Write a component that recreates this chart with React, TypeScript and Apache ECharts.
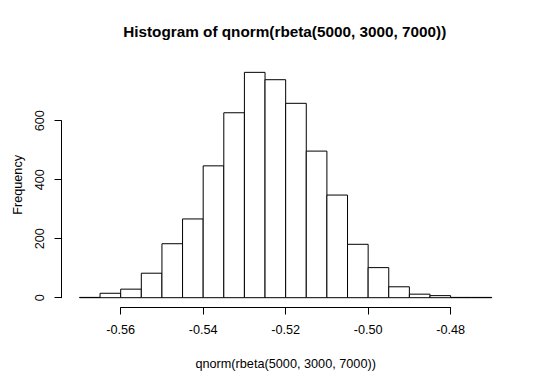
import React, { useEffect, useRef } from "react";
import * as echarts from "echarts";

// Histogram bin edges (breaks) and counts
const binEdges = [
  -0.57, -0.565, -0.56, -0.555, -0.55, -0.545, -0.54, -0.535, -0.53, -0.525,
  -0.52, -0.515, -0.51, -0.505, -0.5, -0.495, -0.49, -0.485, -0.48, -0.475, -0.47,
];
const counts = [1, 15, 29, 83, 183, 267, 447, 627, 764, 739, 659, 497, 348, 181, 102, 37, 12, 7, 1, 1];

const titleText = "Histogram of qnorm(rbeta(5000, 3000, 7000))";
const xLabel = "qnorm(rbeta(5000, 3000, 7000))";
const yLabel = "Frequency";

// axis tick ranges (R-style axes span first to last tick)
const xTickMin = -0.56;
const xTickMax = -0.48;
const xTickStep = 0.02;
const yTickMin = 0;
const yTickMax = 600;
const yTickStep = 200;

const FONT = '"Liberation Sans", Arial, Helvetica, sans-serif';

export default function App() {
  const ref = useRef<HTMLDivElement>(null);
  useEffect(() => {
    if (!ref.current) return;
    const chart = echarts.init(ref.current, undefined, { renderer: "svg" });
    const data = counts.map((c, i) => [binEdges[i], binEdges[i + 1], c]);
    chart.setOption({
      animation: false,
      backgroundColor: "#fff",
      textStyle: { fontFamily: FONT },
      graphic: [
        {
          type: "text",
          x: 284.7,
          y: 31.7,
          style: {
            text: titleText,
            fill: "#000",
            font: `bold 15.3px ${FONT}`,
            textAlign: "center",
            textVerticalAlign: "middle",
          },
        },
      ],
      grid: [
        { left: 62.96, width: 445.4, top: 63.2, height: 243.35 },
        { left: 120.7, width: 330, top: 306.5, height: 1 },
        { left: 61.5, width: 1, top: 120.7, height: 177 },
      ],
      xAxis: [
        {
          gridIndex: 0,
          type: "value",
          min: -0.574,
          max: -0.466,
          axisLine: { show: false },
          axisTick: { show: false },
          axisLabel: { show: false },
          splitLine: { show: false },
          name: xLabel,
          nameLocation: "middle",
          nameGap: 51,
          nameTextStyle: { fontSize: 12.7, color: "#000", fontFamily: FONT },
        },
        {
          gridIndex: 1,
          type: "value",
          min: xTickMin,
          max: xTickMax,
          interval: xTickStep,
          position: "bottom",
          axisLine: { show: true, lineStyle: { color: "#000", width: 1 } },
          axisTick: { show: true, length: 7, lineStyle: { color: "#000", width: 1 } },
          axisLabel: {
            show: true,
            fontSize: 12.7,
            color: "#000",
            fontFamily: FONT,
            margin: 16,
            formatter: (v: number) => v.toFixed(2),
          },
          splitLine: { show: false },
        },
        {
          gridIndex: 2,
          type: "value",
          show: false,
        },
      ],
      yAxis: [
        {
          gridIndex: 0,
          type: "value",
          min: -30,
          max: 795,
          axisLine: { show: false },
          axisTick: { show: false },
          axisLabel: { show: false },
          splitLine: { show: false },
          name: yLabel,
          nameLocation: "middle",
          nameRotate: 90,
          nameGap: 38,
          nameTextStyle: { fontSize: 12.7, color: "#000", fontFamily: FONT },
        },
        {
          gridIndex: 1,
          type: "value",
          show: false,
          min: 0,
          max: 1,
        },
        {
          gridIndex: 2,
          type: "value",
          min: yTickMin,
          max: yTickMax,
          interval: yTickStep,
          position: "left",
          axisLine: { show: true, lineStyle: { color: "#000", width: 1 } },
          axisTick: { show: true, length: 7, lineStyle: { color: "#000", width: 1 } },
          axisLabel: {
            show: true,
            rotate: 90,
            fontSize: 12.7,
            color: "#000",
            fontFamily: FONT,
            margin: 15,
          },
          splitLine: { show: false },
        },
      ],
      series: [
        {
          type: "custom",
          xAxisIndex: 0,
          yAxisIndex: 0,
          clip: false,
          data,
          encode: { x: [0, 1], y: 2 },
          renderItem: (params: any, api: any) => {
            const x0 = api.value(0);
            const x1 = api.value(1);
            const c = api.value(2);
            const p0 = api.coord([x0, 0]);
            const p1 = api.coord([x1, c]);
            return {
              type: "rect",
              shape: {
                x: p0[0],
                y: p1[1],
                width: p1[0] - p0[0],
                height: p0[1] - p1[1],
              },
              style: { fill: "#fff", stroke: "#000", lineWidth: 1 },
            };
          },
        },
      ],
    });
    return () => chart.dispose();
  }, []);
  return (
    <div
      ref={ref}
      style={{ position: "fixed", left: 0, top: 0, width: 540, height: 386, background: "#fff" }}
    />
  );
}
